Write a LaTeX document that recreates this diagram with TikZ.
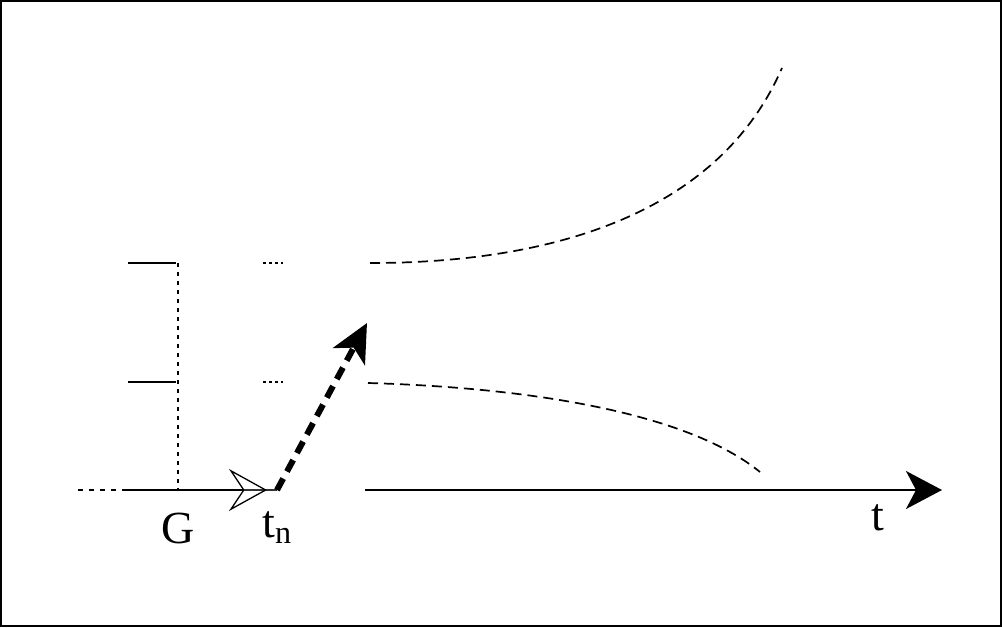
\documentclass[tikz,border=0pt]{standalone}
\usepackage{fontspec}
\setmainfont{Liberation Serif}
\usetikzlibrary{arrows.meta}
\tikzset{
  lbl/.style={font=\fontsize{46}{50}\selectfont, inner sep=0pt, anchor=base},
  curvedash/.style={line width=1.7pt, dash pattern=on 10pt off 6pt},
  dotline/.style={line width=1.2pt, dash pattern=on 4pt off 5pt},
  lvl/.style={line width=1.8pt},
}
\begin{document}
\begin{tikzpicture}[x=1pt,y=-1pt]
\useasboundingbox (0,0) rectangle (1002,627);
\draw[line width=2pt] (1,1) rectangle (1001,626);
% coordinates
\coordinate (d0) at (78,490);
\coordinate (l0) at (127,490);
\coordinate (G) at (178,490);
\coordinate (Gtop) at (178,263);
\coordinate (tn) at (277,490);
\coordinate (a0) at (365,490);
\coordinate (a1) at (942,490);
\coordinate (u0) at (128,263);
\coordinate (u1) at (176,263);
\coordinate (m0) at (128,382);
\coordinate (m1) at (176,382);
\coordinate (ud0) at (263,263);
\coordinate (ud1) at (283,263);
\coordinate (md0) at (263,382);
\coordinate (md1) at (283,382);
\coordinate (c0) at (370,263);
\coordinate (c1) at (782,68);
\coordinate (e0) at (368,383);
\coordinate (e1) at (760,472);
\coordinate (k1) at (367,323);
% axis
\draw[line width=1.6pt, dash pattern=on 5pt off 6pt] (d0) -- (l0);
\draw[lvl] (l0) -- (G);
\draw[line width=1.3pt, black!80] (G) -- (tn);
\draw[line width=1.3pt, -{Stealth[open, length=38pt, width=42pt, inset=14pt]}, black] (G) -- ([xshift=-10pt]tn);
\draw[lvl, -{Stealth[length=36pt, width=38pt, inset=10pt]}] (a0) -- (a1);
% levels
\draw[dotline] (Gtop) -- (G);
\draw[lvl] (u0) -- (u1);
\draw[lvl] (m0) -- (m1);
\draw[line width=1.6pt, dash pattern=on 3pt off 3pt] (ud0) -- (ud1);
\draw[line width=1.6pt, dash pattern=on 3pt off 3pt] (md0) -- (md1);
% curves
\draw[curvedash] (c0) .. controls (560,263) and (720,210) .. (c1);
\draw[curvedash] (e0) .. controls (540,388) and (690,415) .. (e1);
% thick dashed arrow
\draw[line width=6pt, dash pattern=on 13pt off 8pt, -{Stealth[length=38pt, width=36pt, inset=10pt]}] (tn) -- (k1);
% labels
\node[lbl] (Glbl) at (178,543) {G};
\node[lbl] (tnlbl) at (277,537) {t\textsubscript{n}};
\node[lbl] (tlbl) at (878,530) {t};
\end{tikzpicture}
\end{document}
